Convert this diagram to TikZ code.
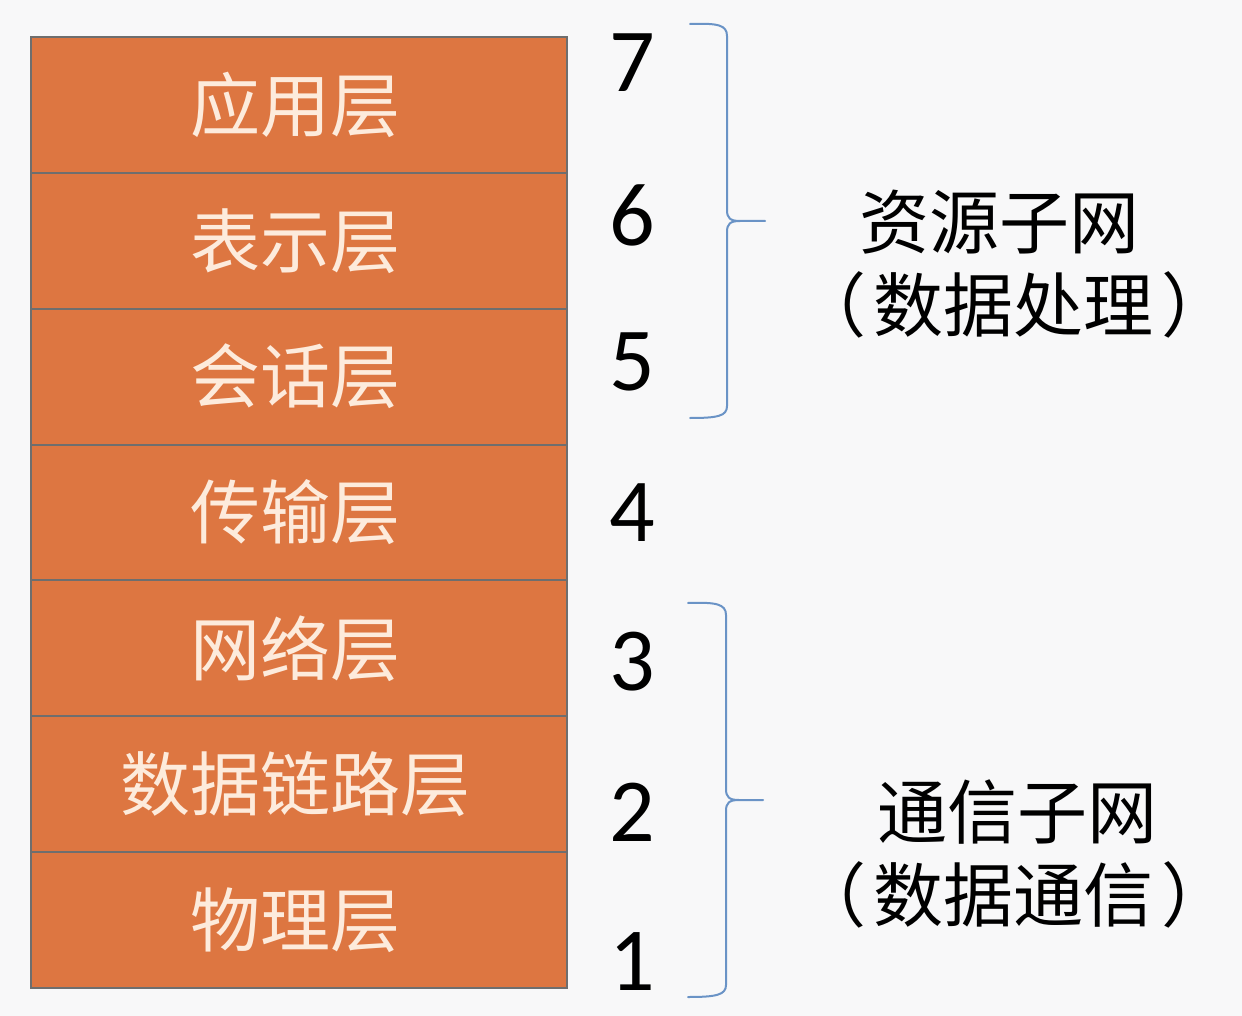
\documentclass[tikz,border=0pt]{standalone}
\usepackage{fontspec}
\newfontfamily\cjk{Noto Sans CJK SC}
\newfontfamily\numf{Carlito}
\definecolor{layerfill}{HTML}{DD7641}
\definecolor{layerline}{HTML}{6E6E6E}
\definecolor{layertext}{HTML}{FDEBDC}
\definecolor{bracecol}{HTML}{6A93C6}
\definecolor{bgcol}{HTML}{F8F8F9}
\tikzset{
  layer/.style={draw=layerline, line width=2pt, fill=layerfill, minimum width=536pt, minimum height=135.86pt, inner sep=0pt, text=layertext, font=\cjk\fontsize{70}{80}\selectfont},
  num/.style={inner sep=0pt, font=\numf\fontsize{90}{100}\selectfont, text=black},
  lbl/.style={inner sep=0pt, align=center, font=\cjk\fontsize{70}{83}\selectfont, text=black},
  bracepath/.style={draw=bracecol, line width=2pt, line cap=round, line join=round}
}
\begin{document}
\begin{tikzpicture}[x=1pt, y=-1pt]
\fill[bgcol] (0,0) rectangle (1242,1016);
\useasboundingbox (0,0) rectangle (1242,1016);
% layers
\node[layer] (L7) at (299, 104.93) {\hspace*{-8pt}应用层};
\node[layer] (L6) at (299, 240.79) {\hspace*{-8pt}表示层};
\node[layer] (L5) at (299, 376.65) {\hspace*{-8pt}会话层};
\node[layer] (L4) at (299, 512.50) {\hspace*{-8pt}传输层};
\node[layer] (L3) at (299, 648.36) {\hspace*{-8pt}网络层};
\node[layer] (L2) at (299, 784.22) {\hspace*{-8pt}数据链路层};
\node[layer] (L1) at (299, 920.07) {\hspace*{-8pt}物理层};
% numbers
\node[num] (n7) at (632, 63) {7};
\node[num] (n6) at (632, 215) {6};
\node[num] (n5) at (632, 362) {5};
\node[num] (n4) at (632, 513) {4};
\node[num] (n3) at (632, 662) {3};
\node[num] (n2) at (632, 812) {2};
\node[num] (n1) at (632, 962) {1};
% braces
\path[bracepath] (690,24) .. controls (718,23) and (727,25) .. (727,36)
  -- (727,210) .. controls (727,218) and (730,221) .. (740,221) -- (765,221)
  (740,221) .. controls (730,221) and (727,224) .. (727,232)
  -- (727,406) .. controls (727,416) and (718,418) .. (690,418);
\path[bracepath] (688,603) .. controls (716,602) and (726,604) .. (726,615)
  -- (726,789) .. controls (726,797) and (729,800) .. (739,800) -- (763,800)
  (739,800) .. controls (729,800) and (726,803) .. (726,811)
  -- (726,985) .. controls (726,995) and (716,997) .. (688,997);
% labels
\node[lbl] (r1) at (999, 222) {资源子网};
\node[lbl] (r2) at (1014, 305) {（\hspace{8pt}数据处理\hspace{8pt}）};
\node[lbl] (c1) at (1017, 812) {通信子网};
\node[lbl] (c2) at (1014, 895) {（\hspace{8pt}数据通信\hspace{8pt}）};
\end{tikzpicture}
\end{document}
